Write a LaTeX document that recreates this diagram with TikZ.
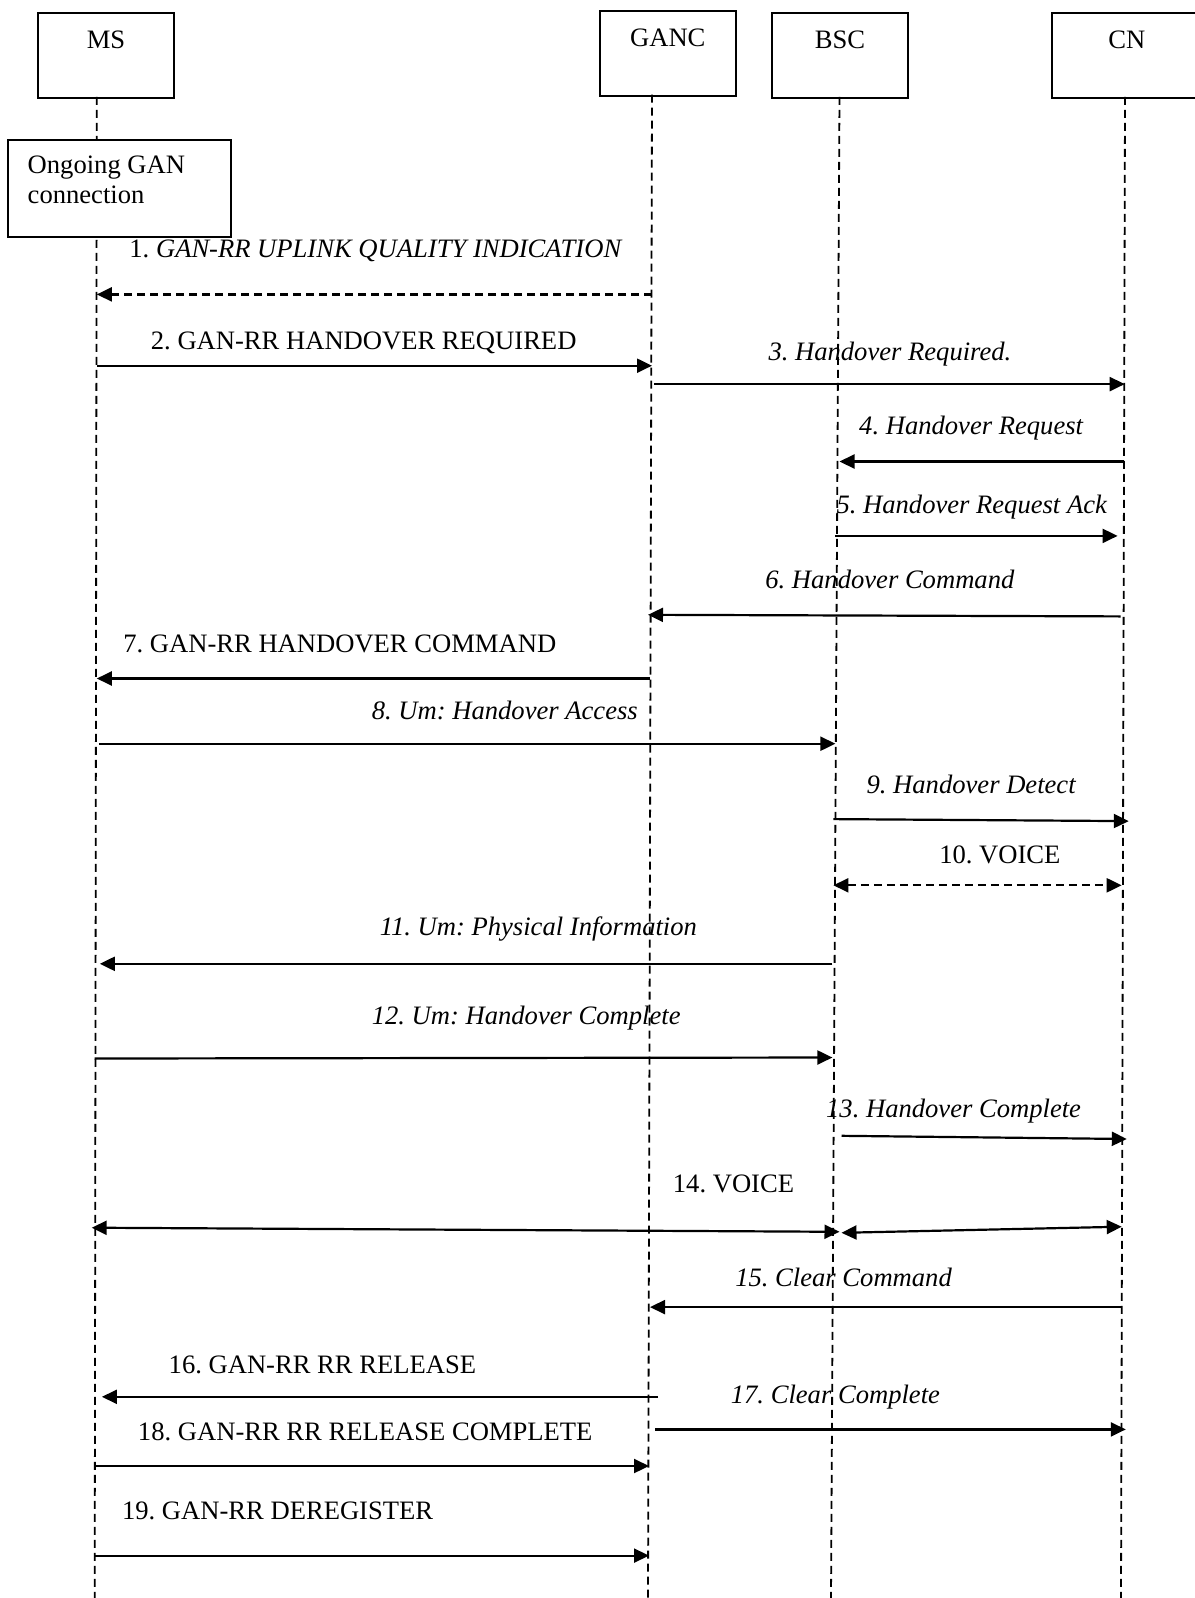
\documentclass[tikz,border=0pt]{standalone}
\usepackage{fontspec}
\setmainfont{Liberation Serif}
\usetikzlibrary{arrows.meta}
\frenchspacing
\begin{document}
\begin{tikzpicture}[x=1pt,y=-1pt,
  every node/.style={font=\fontsize{26.6}{29.5}\selectfont, inner sep=0pt},
  entity/.style={draw, line width=2pt, anchor=north, text height=35.3pt, text depth=49.3pt, minimum width=136pt},
  life/.style={line width=1.8pt, dash pattern=on 8pt off 5pt},
  msg/.style={line width=2.2pt, -{Triangle[length=15pt,width=14pt]}},
  dmsg/.style={msg, dash pattern=on 8pt off 5pt},
  bmsg/.style={line width=2.2pt, {Triangle[length=15pt,width=14pt]}-{Triangle[length=15pt,width=14pt]}},
  lbl/.style={anchor=base}]
\useasboundingbox (0,0) rectangle (1194,1598);
\fill[white] (0,0) rectangle (1194,1598);

% entities
\node[entity] (ms) at (106,12.2) {MS};
\node[entity] (ganc) at (667.8,10.2) {GANC};
\node[entity] (bsc) at (840,12.2) {BSC};
\node[entity, minimum width=150pt] (cn) at (1127.4,12.2) {\hspace*{-1pt}CN};

% lifelines
\coordinate (msT) at (96.8,96.8);   \coordinate (msB) at (94.7,1598);
\coordinate (gaT) at (652,94.7);    \coordinate (gaB) at (648,1598);
\coordinate (bsT) at (839.5,96.8);  \coordinate (bsB) at (831,1598);
\coordinate (cnT) at (1125,96.8);   \coordinate (cnB) at (1121,1598);
\draw[life] (msT) -- (msB);
\draw[life] (gaT) -- (gaB);
\draw[life] (bsT) -- (bsB);
\draw[life] (cnT) -- (cnB);

% ongoing box
\node[draw, fill=white, line width=2pt, anchor=north west, minimum width=223pt, minimum height=97.8pt] (ongoing) at (7.1,138.6) {};
\node[anchor=north west, align=left] (ongoingtxt) at (27.5,155.8) {Ongoing GAN\\connection};

% message end points
\coordinate (a1s) at (652,294.4);    \coordinate (a1e) at (96.8,294.4);
\coordinate (a2s) at (96.8,365.7);   \coordinate (a2e) at (652,365.7);
\coordinate (a3s) at (654,384.1);    \coordinate (a3e) at (1124.7,384.1);
\coordinate (a4s) at (1123.7,461.5); \coordinate (a4e) at (839.5,461.5);
\coordinate (a5s) at (835.4,535.9);  \coordinate (a5e) at (1117.6,535.9);
\coordinate (a6s) at (1120.7,616.4); \coordinate (a6e) at (648,614.8);
\coordinate (a7s) at (650,678.5);    \coordinate (a7e) at (96.8,678.5);
\coordinate (a8s) at (98.8,743.7);   \coordinate (a8e) at (835.4,743.7);
\coordinate (a9s) at (833.4,819.1);  \coordinate (a9e) at (1128.8,821.1);
\coordinate (a10s) at (833.4,885.3); \coordinate (a10e) at (1121.7,885.3);
\coordinate (a11s) at (832.4,963.8); \coordinate (a11e) at (99.8,963.8);
\coordinate (a12s) at (94.7,1058.5); \coordinate (a12e) at (832.4,1057.5);
\coordinate (a13s) at (841.5,1135.8);\coordinate (a13e) at (1126.8,1139.0);
\coordinate (a14s) at (91.7,1227.7); \coordinate (a14e) at (839.5,1231.8);
\coordinate (a14bs) at (841.5,1232.8);\coordinate (a14be) at (1121.7,1226.7);
\coordinate (a15s) at (1120.7,1307.1);\coordinate (a15e) at (650,1307.1);
\coordinate (a16s) at (658.2,1396.8);\coordinate (a16e) at (101.9,1396.8);
\coordinate (a17s) at (655.1,1429.4);\coordinate (a17e) at (1125.8,1429.4);
\coordinate (a18s) at (94.7,1466.0); \coordinate (a18e) at (649,1466.0);
\coordinate (a19s) at (94.7,1555.6); \coordinate (a19e) at (649,1555.6);

% connectors
\draw[dmsg] (a1s) -- (a1e);
\draw[msg] (a2s) -- (a2e);
\draw[msg] (a3s) -- (a3e);
\draw[msg] (a4s) -- (a4e);
\draw[msg] (a5s) -- (a5e);
\draw[msg] (a6s) -- (a6e);
\draw[msg] (a7s) -- (a7e);
\draw[msg] (a8s) -- (a8e);
\draw[msg] (a9s) -- (a9e);
\draw[bmsg, dash pattern=on 8pt off 5pt] (a10s) -- (a10e);
\draw[msg] (a11s) -- (a11e);
\draw[msg] (a12s) -- (a12e);
\draw[msg] (a13s) -- (a13e);
\draw[bmsg] (a14s) -- (a14e);
\draw[bmsg] (a14bs) -- (a14be);
\draw[msg] (a15s) -- (a15e);
\draw[msg] (a16s) -- (a16e);
\draw[msg] (a17s) -- (a17e);
\draw[msg] (a18s) -- (a18e);
\draw[msg] (a19s) -- (a19e);

% labels
\node[lbl] (l1) at (376,257.4) {1. \textit{GAN-RR UPLINK QUALITY INDICATION}};
\node[lbl] (l2) at (363.7,349.1) {2. GAN-RR HANDOVER REQUIRED};
\node[lbl] (l3) at (889.9,360.3) {\textit{3. Handover Required.}};
\node[lbl] (l4) at (971.4,434.7) {\textit{4. Handover Request}};
\node[lbl] (l5) at (971.9,513.1) {\textit{5. Handover Request Ack}};
\node[lbl] (l6) at (889.9,588.5) {\textit{6. Handover Command}};
\node[lbl] (l7) at (339.8,652.7) {7. GAN-RR HANDOVER COMMAND};
\node[lbl] (l8) at (504.8,719.9) {\textit{8. Um: Handover Access}};
\node[lbl] (l9) at (971.4,793.3) {\textit{9. Handover Detect}};
\node[lbl] (l10) at (999.9,863.6) {10. VOICE};
\node[lbl] (l11) at (538.4,935.9) {\textit{11. Um: Physical Information}};
\node[lbl] (l12) at (526.2,1024.5) {\textit{12. Um: Handover Complete}};
\node[lbl] (l13) at (953.6,1117.3) {\textit{13. Handover Complete}};
\node[lbl] (l14) at (733.5,1192.6) {14. VOICE};
\node[lbl] (l15) at (843.6,1286.4) {\textit{15. Clear Command}};
\node[lbl] (l16) at (322.4,1373.0) {16. GAN-RR RR RELEASE};
\node[lbl] (l17) at (835.4,1403.5) {\textit{17. Clear Complete}};
\node[lbl] (l18) at (365.2,1440.2) {18. GAN-RR RR RELEASE COMPLETE};
\node[lbl] (l19) at (277.6,1519.7) {19. GAN-RR DEREGISTER};
\end{tikzpicture}
\end{document}
